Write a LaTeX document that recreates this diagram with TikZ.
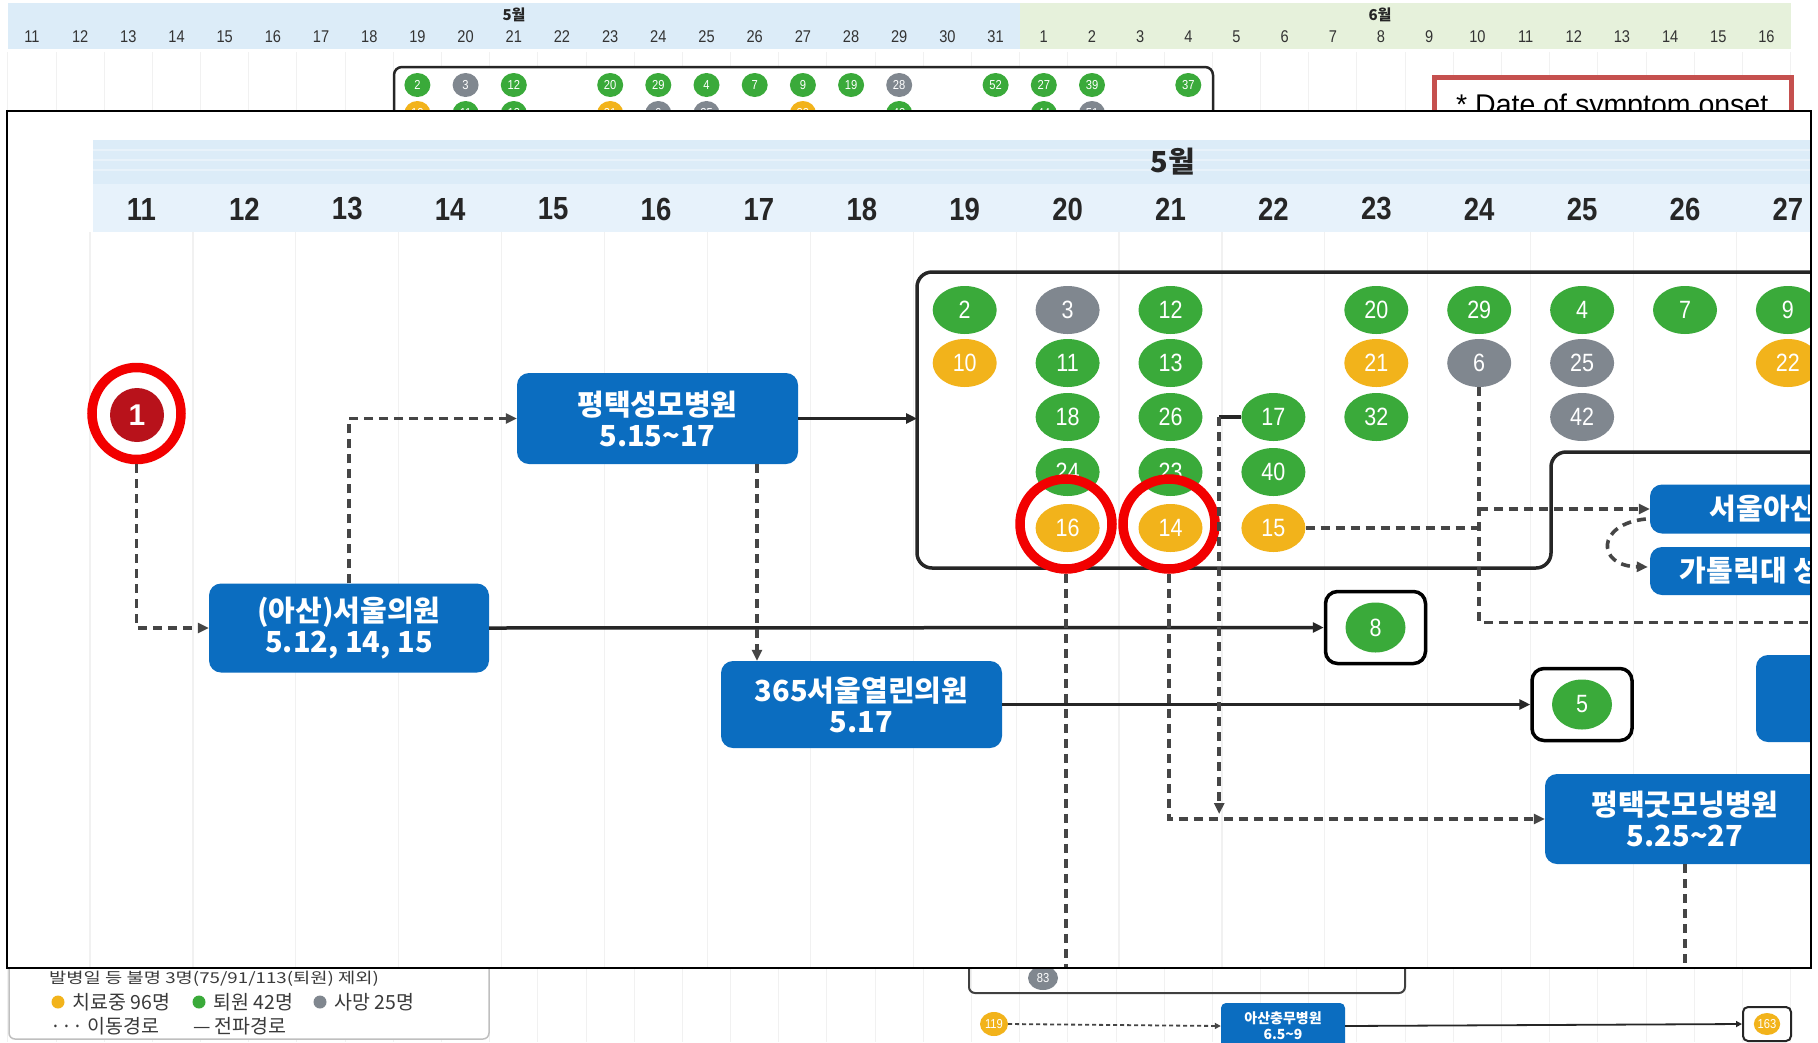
\documentclass[tikz,border=0pt]{standalone}
\usepackage{fontspec}
\setmainfont{Liberation Sans}
\newfontfamily\kr{Noto Sans CJK KR}
\newfontfamily\krwide{Noto Sans CJK KR}[FakeStretch=1.25]
\newfontfamily\narrow{Liberation Sans}[FakeStretch=0.86]
\usetikzlibrary{shapes.geometric,arrows.meta,calc}

\definecolor{cgreen}{HTML}{3AAA3A}
\definecolor{cgrey}{HTML}{80878F}
\definecolor{cyellow}{HTML}{F2B31B}
\definecolor{cblue}{HTML}{0B6DC0}
\definecolor{cred}{HTML}{B8121B}
\definecolor{ringred}{HTML}{F20000}
\definecolor{pathc}{HTML}{454545}
\definecolor{hdrblue}{HTML}{DCECF8}
\definecolor{hdrbluelt}{HTML}{E7F2FB}
\definecolor{hdrgreen}{HTML}{E6F1DB}
\definecolor{gridc}{HTML}{F1F1F1}
\definecolor{notered}{HTML}{C5504E}
\definecolor{legtext}{HTML}{3A3A3A}

\tikzset{
  ball/.style={ellipse, inner sep=0pt, minimum width=64pt, minimum height=48pt,
    text=white, font=\narrow\fontsize{25}{25}\selectfont},
  gball/.style={ball, fill=cgreen},
  grball/.style={ball, fill=cgrey},
  yball/.style={ball, fill=cyellow},
  sball/.style={ellipse, inner sep=0pt, minimum width=26pt, minimum height=24pt,
    text=white, font=\narrow\fontsize{13}{13}\selectfont},
  hosp/.style={rectangle, rounded corners=12pt, fill=cblue, text=white, align=center,
    inner sep=0pt, font=\kr\bfseries\fontsize{29}{31}\selectfont},
  smallhosp/.style={rectangle, rounded corners=5pt, fill=cblue, text=white, align=center,
    inner sep=0pt, font=\kr\bfseries\fontsize{14}{16}\selectfont},
  casebox/.style={rectangle, draw=black, line width=3.5pt, rounded corners=12pt,
    fill=white, minimum width=100pt, minimum height=72pt},
  redring/.style={ellipse, draw=ringred, line width=9.5pt, inner sep=0pt,
    minimum width=92pt, minimum height=90pt},
  move/.style={draw=pathc, line width=3.6pt, dash pattern=on 9pt off 6pt},
  spread/.style={draw=black!85, line width=3.5pt},
  tip/.style={-{Triangle[length=11pt,width=10pt]}},
  bgmove/.style={draw=pathc, line width=1.8pt, dash pattern=on 4pt off 3pt},
  bgspread/.style={draw=black!85, line width=1.8pt},
  smalltip/.style={-{Triangle[length=6pt,width=6pt]}},
  daylab/.style={text=black!85, font=\narrow\bfseries\fontsize{32}{32}\selectfont},
  bgday/.style={text=black!80, font=\narrow\fontsize{17}{17}\selectfont},
  bgmonth/.style={text=black!85, font=\kr\bfseries\fontsize{15}{15}\selectfont},
  legend/.style={anchor=west, inner sep=0pt, text=legtext, font=\kr\fontsize{19.5}{19.5}\selectfont},
}

\begin{document}
\begin{tikzpicture}[x=1pt,y=-1pt]
\useasboundingbox (0,0) rectangle (1818,1042);
\fill[white] (0,0) rectangle (1818,1042);

% ---------------- full timeline (behind) ----------------
\foreach \i in {0,...,37}
  \draw[gridc, line width=1pt] ({32+48.18*(\i-0.5)},52) -- ++(0,990);
\fill[hdrblue] (8,3) rectangle (1020,49);
\fill[hdrgreen] (1020,3) rectangle (1791,49);
\node[bgmonth] (bgm5) at (514,15) {5월};
\node[bgmonth] (bgm6) at (1380,15) {6월};
\foreach \d [count=\i from 0] in {11,...,31}
  \node[bgday] (bgdm\i) at ({32+48.18*\i},37) {\d};
\foreach \d [count=\i from 21] in {1,...,16}
  \node[bgday] (bgdj\d) at ({32+48.18*\i},37) {\d};

% onset cluster box
\draw[draw=black!85, line width=2.5pt, rounded corners=8pt, fill=white] (394,67) rectangle (1213,160);
\foreach \x/\n/\c [count=\k] in {417.4/2/cgreen, 465.6/3/cgrey, 513.8/12/cgreen,
    610.2/20/cgreen, 658.3/29/cgreen, 706.5/4/cgreen, 754.7/7/cgreen, 802.9/9/cgreen,
    851.1/19/cgreen, 899.2/28/cgrey, 995.6/52/cgreen, 1043.8/27/cgreen, 1092/39/cgreen,
    1188.3/37/cgreen}
  \node[sball, fill=\c] (bga\k) at (\x,85) {\n};
\foreach \x/\n/\c [count=\k] in {417.4/10/cyellow, 465.6/11/cgreen, 513.8/13/cgreen,
    610.2/21/cyellow, 658.3/6/cgrey, 706.5/25/cgrey, 802.9/22/cyellow, 899.2/42/cgreen,
    1043.8/44/cgreen, 1092/51/cgrey}
  \node[sball, fill=\c] (bgb\k) at (\x,113) {\n};

% onset note
\draw[notered, line width=5pt, fill=white] (1434,77) rectangle (1791,160);
\node[anchor=base west, inner sep=0pt, font=\fontsize{28.5}{28.5}\selectfont] (note) at (1456,114)
  {* Date of symptom onset};

% legend
\draw[black!25, line width=1.5pt, rounded corners=6pt, fill=white] (9,940) rectangle (489,1039);
\node[legend, font=\krwide\fontsize{15}{15}\selectfont] (leg1) at (49,979)
  {발병일 등 불명 3명(75/91/113(퇴원) 제외)};
\node[circle, fill=cyellow, inner sep=0pt, minimum size=13pt] (ldy) at (58,1002) {};
\node[legend] (lty) at (72,1002) {치료중 96명};
\node[circle, fill=cgreen, inner sep=0pt, minimum size=13pt] (ldg) at (199,1002) {};
\node[legend] (ltg) at (213,1002) {퇴원 42명};
\node[circle, fill=cgrey, inner sep=0pt, minimum size=13pt] (ldr) at (320,1002) {};
\node[legend] (ltr) at (334,1002) {사망 25명};
\node[legend] (lmove) at (50,1026) {··· 이동경로};
\node[legend] (lspread) at (193,1026) {— 전파경로};

% lower part of the timeline
\draw[draw=black!75, line width=2pt, rounded corners=6pt] (969,900) rectangle (1405,993);
\node[sball, fill=cgrey, minimum width=30pt, minimum height=24pt] (b83) at (1043,978) {83};
\node[sball, fill=cyellow, minimum width=28pt, minimum height=24pt] (b119) at (994,1024) {119};
\node[smallhosp, minimum width=124pt, minimum height=46pt] (chungmu) at (1283,1026)
  {아산충무병원\\6.5\textasciitilde 9};
\node[rectangle, draw=black!85, line width=2pt, rounded corners=5pt, fill=white,
  minimum width=48pt, minimum height=34pt] (case163) at (1767,1024) {};
\node[sball, fill=cyellow, minimum width=26pt, minimum height=22pt] (b163) at (1767,1024) {163};
\draw[bgmove, smalltip] (b119.east) -- (chungmu.west);
\draw[bgspread, smalltip] (chungmu.east) -- (case163.west);

% ---------------- enlarged view ----------------
\fill[white] (7,111) rectangle (1811,968);
\begin{scope}
\clip (7,111) rectangle (1811,968);

\foreach \k in {0,...,17}
  \draw[gridc, line width=1.2pt] ({141.5+102.9*(\k-0.5)},232) -- ++(0,740);
\fill[hdrblue] (93,140) rectangle (1811,184);
\fill[hdrbluelt] (93,184) rectangle (1811,232);
\foreach \yy in {150,160,170}
  \draw[white, opacity=0.35, line width=2pt] (93,\yy) -- (1811,\yy);
\node[text=black!85, font=\kr\bfseries\fontsize{29}{29}\selectfont] (mon5) at (1173,162) {5월};
\foreach \d in {11,...,27}
  \node[daylab] (day\d) at ({141.5+102.9*(\d-11)},209) {\d};

% ward cluster outline
\draw[black!85, line width=3.5pt, rounded corners=15pt]
  (1840,272) -- (917,272) -- (917,568) -- (1551,568) -- (1551,452) -- (1840,452);
\coordinate (bigL) at (917,418.5);

% hospitals
\node[hosp, minimum width=280pt, minimum height=89pt] (seoul) at (349,628)
  {(아산)서울의원\\5.12, 14, 15};
\node[hosp, minimum width=281pt, minimum height=91pt] (pt) at (657.5,418.5)
  {평택성모병원\\5.15\textasciitilde 17};
\node[hosp, minimum width=281pt, minimum height=87pt] (yeolin) at (861.5,704.5)
  {365서울열린의원\\5.17};
\node[hosp, minimum width=280pt, minimum height=90pt] (gm) at (1685,819)
  {평택굿모닝병원\\5.25\textasciitilde 27};
\node[hosp, minimum width=280pt, minimum height=49pt] (asan) at (1790,509) {서울아산병원};
\node[hosp, minimum width=280pt, minimum height=48pt] (cath) at (1790,571) {가톨릭대 성모병원};
\node[hosp, minimum width=280pt, minimum height=87pt] (h5) at (1896,698.5) {};

% cases
\node[gball] (c2) at (964.7,310) {2};
\node[grball] (c3) at (1067.6,310) {3};
\node[gball] (c12) at (1170.5,310) {12};
\node[gball] (c20) at (1376.3,310) {20};
\node[gball] (c29) at (1479.2,310) {29};
\node[gball] (c4) at (1582.1,310) {4};
\node[gball] (c7) at (1685,310) {7};
\node[gball] (c9) at (1787.9,310) {9};
\node[yball] (c10) at (964.7,363) {10};
\node[gball] (c11) at (1067.6,363) {11};
\node[gball] (c13) at (1170.5,363) {13};
\node[yball] (c21) at (1376.3,363) {21};
\node[grball] (c6) at (1479.2,363) {6};
\node[grball] (c25) at (1582.1,363) {25};
\node[yball] (c22) at (1787.9,363) {22};
\node[gball] (c18) at (1067.6,417) {18};
\node[gball] (c26) at (1170.5,417) {26};
\node[gball] (c17) at (1273.4,417) {17};
\node[gball] (c32) at (1376.3,417) {32};
\node[grball] (c42) at (1582.1,417) {42};
\node[gball] (c24) at (1067.6,472) {24};
\node[gball] (c23) at (1170.5,472) {23};
\node[gball] (c40) at (1273.4,472) {40};
\node[yball] (c16) at (1067.6,528) {16};
\node[yball] (c14) at (1170.5,528) {14};
\node[yball] (c15) at (1273.4,528) {15};

\node[casebox] (case8) at (1375.5,627.5) {};
\node[gball, minimum width=60pt, minimum height=50pt] (c8) at (1375.5,627.5) {8};
\node[casebox] (case5) at (1582,704.5) {};
\node[gball, minimum width=60pt, minimum height=50pt] (c5) at (1582,704.5) {5};

\node[circle, fill=cred, inner sep=0pt, minimum size=54pt, text=white,
  font=\bfseries\fontsize{30}{30}\selectfont] (c1) at (137,415) {1};

% highlight rings
\node[redring, minimum width=89pt, minimum height=92pt] (r1) at (136.5,413.5) {};
\node[redring] (r16) at (1066,524) {};
\node[redring] (r14) at (1169,524) {};

% helper points
\coordinate (inbot) at (0,968);
\coordinate (ptdrop) at (757,0);
\coordinate (redge) at (1840,622.6);

% movement and spread paths
\draw[move, tip] (r1.south) |- (seoul.west);
\draw[move, tip] (seoul.north) |- (pt.west);
\draw[spread, tip] (seoul.east) -- (case8.west);
\draw[spread, tip] (pt.east) -- (bigL);
\draw[move, tip] (pt.south -| ptdrop) -- (yeolin.north -| ptdrop);
\draw[spread, tip] (yeolin.east) -- (case5.west);
\draw[move] (r16.south) -- (r16.south |- inbot);
\draw[move, tip] (r14.south) |- (gm.west);
\draw[spread] (c17.west) -- ++(-22,0) coordinate (k17);
\draw[move, tip, shorten >=5pt] (k17) -- (k17 |- gm.west);
\draw[move] (c15.east) -- (c15.east -| c6.south);
\draw[move] (c6.south) |- (redge);
\draw[move, tip] (c6.south |- asan.west) -- (asan.west);
\draw[move, tip] ($(asan.west)+(-4,10)$) .. controls (1596,524) and (1596,566) .. ($(cath.west)+(-2,-4)$);
\draw[move] (gm.south) -- (gm.south |- inbot);
\end{scope}
\draw[black, line width=2.5pt] (7,111) rectangle (1811,968);
\end{tikzpicture}
\end{document}
